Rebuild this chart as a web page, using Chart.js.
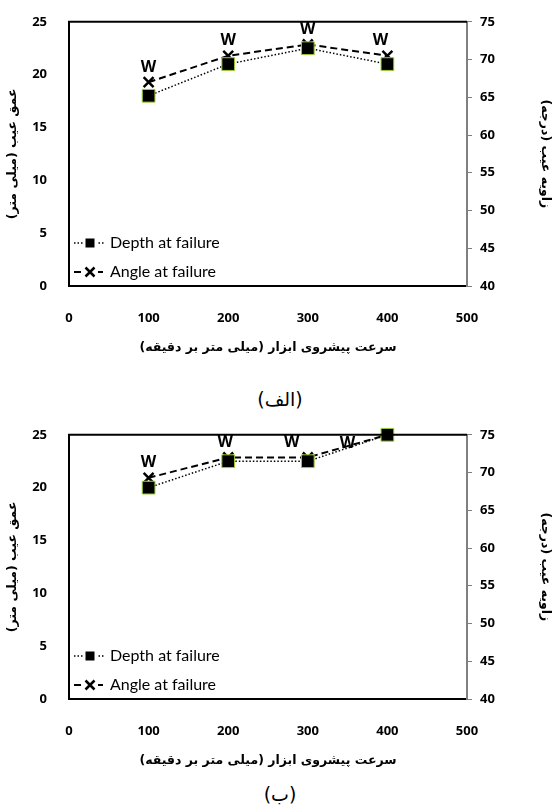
<!DOCTYPE html>
<html>
<head>
<meta charset="utf-8">
<script src="https://cdn.jsdelivr.net/npm/chart.js@4/dist/chart.umd.min.js"></script>
<style>
  body { margin: 0; background: #fff; width: 560px; height: 810px; position: relative; overflow: hidden; }
  .box { position: absolute; left: 0; width: 560px; height: 365px; }
  .cap { position: absolute; left: 0; width: 560px; text-align: center; direction: rtl;
         font: 19px "DejaVu Sans", sans-serif; color: #000; }
</style>
</head>
<body>
<div class="box" style="top:0"><canvas id="chartA"></canvas></div>
<div class="cap" style="top:388px">(الف)</div>
<div class="box" style="top:413px"><canvas id="chartB"></canvas></div>
<div class="cap" style="top:783px">(ب)</div>

<script>
// Feed rate (mm/min) on the x axis
const feedRates = [100, 200, 300, 400];

// Chart (الف)
const depthA = [18, 21, 22.5, 21];
const angleA = [67, 70.5, 72, 70.5];

// Chart (ب)
const depthB = [20, 22.5, 22.5, 25];
const angleB = [69.3, 72, 72, 75];

const xTicks = { min: 0, max: 500, step: 100 };
const depthTicks = { min: 0, max: 25, step: 5 };
const angleTicks = { min: 40, max: 75, step: 5 };

const legendLabels = ['Depth at failure', 'Angle at failure'];
const RLM = '\u200F';
const xTitle = 'سرعت پیشروی ابزار (میلی متر بر دقیقه)' + RLM;
const leftTitle = 'عمق عیب (میلی متر)' + RLM;
const rightTitle = 'زاویه عیب (درجه)' + RLM;

const tickFont = { family: '"Open Sans", sans-serif', weight: 'bold', size: 13 };
const titleFont = { family: '"DejaVu Sans", sans-serif', weight: 'bold', size: 12.5 };

function toPoints(values) {
  return feedRates.map((x, i) => ({ x: x, y: values[i] }));
}

// draws the top border of the plot frame
const frameTop = {
  id: 'frameTop',
  afterDraw(chart) {
    const a = chart.chartArea;
    const ctx = chart.ctx;
    ctx.save();
    ctx.strokeStyle = '#000';
    ctx.lineWidth = 2;
    ctx.beginPath();
    ctx.moveTo(a.left - 1, a.top);
    ctx.lineTo(a.right, a.top);
    ctx.stroke();
    ctx.restore();
  }
};

// "W" marks above the angle points
const wMarks = {
  id: 'wMarks',
  afterDatasetsDraw(chart, args, opts) {
    const meta = chart.getDatasetMeta(1);
    const ctx = chart.ctx;
    ctx.save();
    ctx.font = 'bold 16px "Open Sans", sans-serif';
    ctx.fillStyle = '#000';
    ctx.textAlign = 'center';
    ctx.textBaseline = 'middle';
    meta.data.forEach((pt, i) => {
      const off = (opts.offsets && opts.offsets[i]) || [0, 0];
      ctx.fillText('W', pt.x + off[0], pt.y - 15 + off[1]);
    });
    ctx.restore();
  }
};

// legend drawn inside the plot, bottom left, with line + marker
const innerLegend = {
  id: 'innerLegend',
  afterDraw(chart) {
    const a = chart.chartArea;
    const ctx = chart.ctx;
    const rows = [a.bottom - 43, a.bottom - 14];
    ctx.save();
    chart.data.datasets.forEach((ds, i) => {
      const y = rows[i];
      const x0 = a.left + 5, x1 = a.left + 35, cx = a.left + 21;
      ctx.strokeStyle = '#000';
      ctx.lineWidth = ds.borderWidth;
      ctx.setLineDash(ds.borderDash);
      ctx.beginPath();
      ctx.moveTo(x0, y);
      ctx.lineTo(x1, y);
      ctx.stroke();
      ctx.setLineDash([]);
      if (ds.pointStyle === 'rect') {
        ctx.fillStyle = '#fff';
        ctx.fillRect(cx - 7, y - 5, 14, 10);
        ctx.fillStyle = '#000';
        ctx.fillRect(cx - 4.5, y - 4.5, 9, 9);
      } else {
        ctx.fillStyle = '#fff';
        ctx.fillRect(cx - 8, y - 6, 16, 12);
        ctx.lineWidth = 2.5;
        ctx.beginPath();
        ctx.moveTo(cx - 4.5, y - 4.5); ctx.lineTo(cx + 4.5, y + 4.5);
        ctx.moveTo(cx + 4.5, y - 4.5); ctx.lineTo(cx - 4.5, y + 4.5);
        ctx.stroke();
      }
      ctx.fillStyle = '#000';
      ctx.font = '16px Lato, sans-serif';
      ctx.textAlign = 'left';
      ctx.textBaseline = 'middle';
      ctx.direction = 'ltr';
      ctx.fillText(legendLabels[i], a.left + 41, y);
    });
    ctx.restore();
  }
};

function makeChart(id, depth, angle, wOffsets) {
  const ctx = document.getElementById(id);
  return new Chart(ctx, {
    type: 'line',
    data: {
      datasets: [{
        label: legendLabels[0],
        data: toPoints(depth),
        yAxisID: 'y',
        borderColor: '#000',
        borderWidth: 1.5,
        borderDash: [1.5, 2],
        pointStyle: 'rect',
        pointRadius: 9,
        pointBackgroundColor: '#000',
        pointBorderColor: '#9acd32',
        pointBorderWidth: 1,
        tension: 0,
        clip: false
      }, {
        label: legendLabels[1],
        data: toPoints(angle),
        yAxisID: 'y1',
        borderColor: '#000',
        borderWidth: 2,
        borderDash: [7, 4],
        pointStyle: 'crossRot',
        pointRadius: 7,
        pointBorderColor: '#000',
        pointBorderWidth: 2.5,
        tension: 0,
        clip: false
      }]
    },
    options: {
      responsive: true,
      maintainAspectRatio: false,
      animation: false,
      layout: { padding: { top: 17, left: 0, right: 0, bottom: 0 } },
      plugins: {
        legend: { display: false },
        tooltip: { enabled: false },
        wMarks: { offsets: wOffsets }
      },
      scales: {
        x: {
          type: 'linear',
          min: xTicks.min,
          max: xTicks.max,
          ticks: { stepSize: xTicks.step, color: '#000', font: tickFont, padding: 16 },
          grid: { display: false },
          border: { color: '#000', width: 2 },
          title: { display: true, text: xTitle, color: '#000', font: titleFont, padding: { top: 0, bottom: 10 } },
          afterFit: function(scale) { scale.height = 79; }
        },
        y: {
          position: 'left',
          min: depthTicks.min,
          max: depthTicks.max,
          ticks: { stepSize: depthTicks.step, color: '#000', font: tickFont, padding: 14 },
          grid: { display: false },
          border: { color: '#000', width: 2 },
          title: { display: true, text: leftTitle, color: '#000', font: titleFont, padding: { top: 5, bottom: 0 } },
          afterFit: function(scale) { scale.width = 69; }
        },
        y1: {
          position: 'right',
          min: angleTicks.min,
          max: angleTicks.max,
          ticks: { stepSize: angleTicks.step, color: '#000', font: tickFont, padding: 8 },
          grid: { display: true, drawOnChartArea: false, drawTicks: true, tickLength: 5, color: '#808080' },
          border: { color: '#808080', width: 2 },
          title: { display: true, text: rightTitle, color: '#000', font: titleFont, padding: { top: 7, bottom: 0 } },
          afterFit: function(scale) { scale.width = 93; }
        }
      }
    },
    plugins: [frameTop, wMarks, innerLegend]
  });
}

makeChart('chartA', depthA, angleA, [[0, 0], [0, 0], [0, 0], [-7, 0]]);
makeChart('chartB', depthB, angleB, [[0, 0], [-3, 0], [-16, 0], [-40, 24]]);
</script>
</body>
</html>
